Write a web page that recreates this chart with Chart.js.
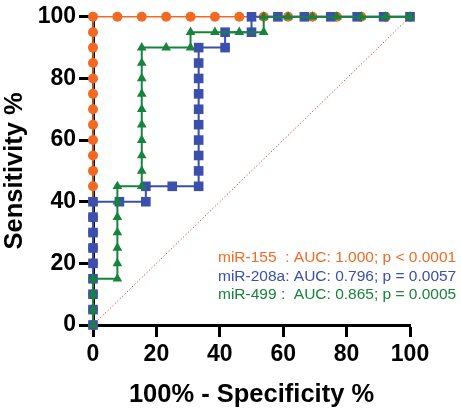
<!DOCTYPE html>
<html>
<head>
<meta charset="utf-8">
<script src="https://cdn.jsdelivr.net/npm/chart.js@4.4.1/dist/chart.umd.min.js"></script>
<style>
    html, body { margin: 0; padding: 0; background: #fff; }
    #wrap { position: relative; width: 461px; height: 410px; }
</style>
</head>
<body>
<div id="wrap"><canvas id="rocChart" width="461" height="410"></canvas></div>
<script>
// ROC points (100% - specificity, sensitivity)
const x155 = [0, 0, 0, 0, 0, 0, 0, 0, 0, 0, 0, 0, 0, 0, 0, 0, 0, 0, 0, 0, 0,
    7.69, 15.38, 23.08, 30.77, 38.46, 46.15, 53.85, 61.54, 69.23, 76.92, 84.62, 92.31, 100];
const y155 = [0, 5, 10, 15, 20, 25, 30, 35, 40, 45, 50, 55, 60, 65, 70, 75, 80, 85, 90, 95, 100,
    100, 100, 100, 100, 100, 100, 100, 100, 100, 100, 100, 100, 100];

const x208 = [0, 0, 0, 0, 0, 0, 0, 0, 0, 8.33, 16.67, 16.67, 25, 33.33,
    33.33, 33.33, 33.33, 33.33, 33.33, 33.33, 33.33, 33.33, 33.33,
    41.67, 41.67, 50, 50, 58.33, 66.67, 75, 83.33, 91.67, 100];
const y208 = [0, 5, 10, 15, 20, 25, 30, 35, 40, 40, 40, 45, 45, 45,
    50, 55, 60, 65, 70, 75, 80, 85, 90,
    90, 95, 95, 100, 100, 100, 100, 100, 100, 100];

const x499 = [0, 0, 0, 0, 7.69, 7.69, 7.69, 7.69, 7.69, 7.69, 7.69,
    15.38, 15.38, 15.38, 15.38, 15.38, 15.38, 15.38, 15.38, 15.38, 15.38,
    23.08, 30.77, 30.77, 38.46, 46.15, 53.85, 53.85, 61.54, 69.23, 76.92, 84.62, 92.31, 100];
const y499 = [0, 5, 10, 15, 15, 20, 25, 30, 35, 40, 45,
    45, 50, 55, 60, 65, 70, 75, 80, 85, 90,
    90, 90, 95, 95, 95, 95, 100, 100, 100, 100, 100, 100, 100];

const diagX = [0, 100];
const diagY = [0, 100];

const tickValues = [0, 20, 40, 60, 80, 100];

const seriesNames = ["miR-155", "miR-208a", "miR-499"];
const legendLines = [
    "miR-155  : AUC: 1.000; p < 0.0001",
    "miR-208a: AUC: 0.796; p = 0.0057",
    "miR-499 :  AUC: 0.865; p = 0.0005"
];
const colors = ["#F26A22", "#3B4FAD", "#16843A"];

const FONT = "'Liberation Sans', Arial, Helvetica, sans-serif";

function toPoints(xs, ys) {
    return xs.map((x, i) => ({ x: x, y: ys[i] }));
}

// legend text drawn in the lower right of the plot
const aucText = {
    id: "aucText",
    afterDatasetsDraw(chart) {
        const ctx = chart.ctx;
        ctx.save();
        ctx.font = "15.5px " + FONT;
        ctx.textAlign = "left";
        ctx.textBaseline = "middle";
        legendLines.forEach((line, i) => {
            ctx.fillStyle = colors[i];
            ctx.fillText(line, 218, 258 + i * 18.3);
        });
        ctx.restore();
    }
};

const ctx = document.getElementById("rocChart").getContext("2d");

new Chart(ctx, {
    type: "scatter",
    data: {
        datasets: [
            {
                label: seriesNames[2],
                data: toPoints(x499, y499),
                showLine: true,
                borderColor: colors[2],
                backgroundColor: colors[2],
                borderWidth: 2,
                pointStyle: "triangle",
                pointRadius: 5.6,
                pointBorderWidth: 0,
                tension: 0,
                clip: false,
                order: 0
            },
            {
                label: seriesNames[1],
                data: toPoints(x208, y208),
                showLine: true,
                borderColor: colors[1],
                backgroundColor: colors[1],
                borderWidth: 2,
                pointStyle: "rect",
                pointRadius: 6.8,
                pointBorderWidth: 0,
                tension: 0,
                clip: false,
                order: 1
            },
            {
                label: seriesNames[0],
                data: toPoints(x155, y155),
                showLine: true,
                borderColor: colors[0],
                backgroundColor: colors[0],
                borderWidth: 1.5,
                pointStyle: "circle",
                pointRadius: 5,
                pointBorderWidth: 0,
                tension: 0,
                clip: false,
                order: 2
            },
            {
                label: "reference",
                data: toPoints(diagX, diagY),
                showLine: true,
                borderColor: "#F0282A",
                borderWidth: 1,
                borderDash: [1.2, 2.2],
                pointRadius: 0,
                tension: 0,
                clip: false,
                order: 3
            }
        ]
    },
    options: {
        responsive: false,
        animation: false,
        events: [],
        layout: { padding: { left: 0, right: 51, top: 10, bottom: 0 } },
        plugins: {
            legend: { display: false },
            tooltip: { enabled: false }
        },
        scales: {
            x: {
                type: "linear",
                min: 0,
                max: 100,
                afterFit: (scale) => { scale.height = 85; },
                afterBuildTicks: (scale) => { scale.ticks = tickValues.map(v => ({ value: v })); },
                grid: {
                    drawOnChartArea: false,
                    drawTicks: true,
                    tickLength: 12,
                    tickWidth: 3,
                    color: "#000"
                },
                border: { display: true, width: 3, color: "#000" },
                ticks: {
                    color: "#000",
                    padding: 4,
                    font: { family: FONT, size: 23, weight: "bold" }
                },
                title: {
                    display: true,
                    text: "100% - Specificity %",
                    color: "#000",
                    padding: { top: 0, bottom: 0 },
                    font: { family: FONT, size: 25.5, weight: "bold" }
                }
            },
            y: {
                type: "linear",
                min: 0,
                max: 100,
                afterFit: (scale) => { scale.width = 93; },
                afterBuildTicks: (scale) => { scale.ticks = tickValues.map(v => ({ value: v })); },
                grid: {
                    drawOnChartArea: false,
                    drawTicks: true,
                    tickLength: 14,
                    tickWidth: 3,
                    color: "#000"
                },
                border: { display: true, width: 3, color: "#000" },
                ticks: {
                    color: "#000",
                    padding: 3,
                    font: { family: FONT, size: 23, weight: "bold" }
                },
                title: {
                    display: true,
                    text: "Sensitivity %",
                    color: "#000",
                    padding: { top: 0, bottom: 0 },
                    font: { family: FONT, size: 25.5, weight: "bold" }
                }
            }
        }
    },
    plugins: [aucText]
});
</script>
</body>
</html>
